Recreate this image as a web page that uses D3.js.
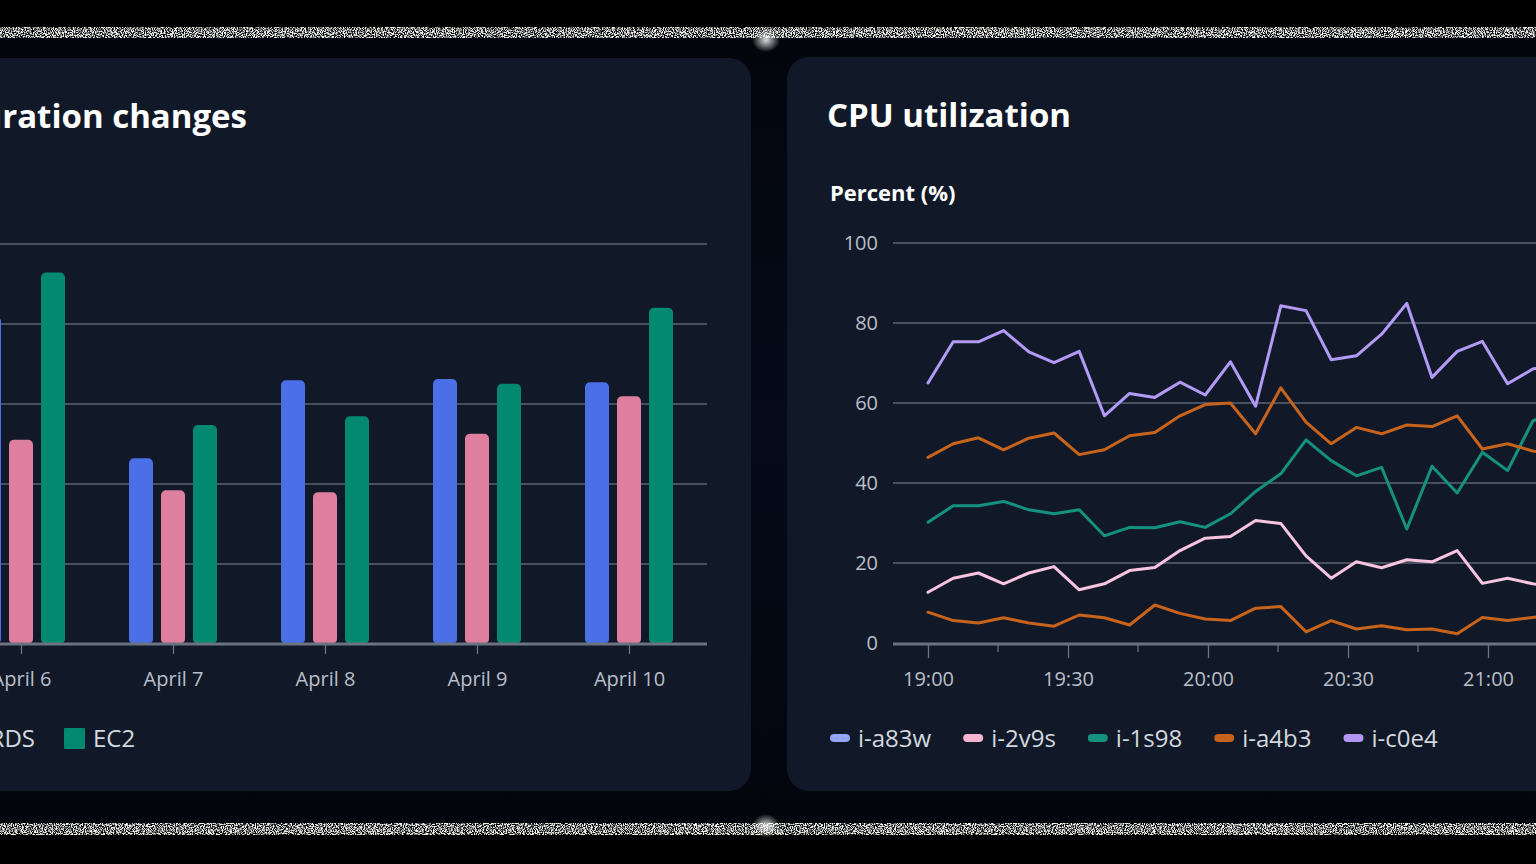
<!DOCTYPE html>
<html lang="en">
<head>
<meta charset="UTF-8">
<title>Configuration changes / CPU utilization</title>
<script src="https://d3js.org/d3.v7.min.js"></script>
<style>
  html, body { margin: 0; padding: 0; background: #000; overflow: hidden; }
  svg { display: block; font-family: 'Open Sans', sans-serif; }
  .grid line { stroke: #5b6372; stroke-width: 1.5; }
  .tick-label { fill: #b9bfc9; font-size: 20px; font-family: 'Open Sans', sans-serif; }
  .legend-label { fill: #d3d8df; font-size: 24px; }
  .title { fill: #fff; font-weight: 700; font-size: 33px; }
</style>
</head>
<body>
<svg id="chart"></svg>
<script>
const width = 1536, height = 864;

// --- bar chart data (Configuration changes)
const days = ['April 6', 'April 7', 'April 8', 'April 9', 'April 10'];
const services = ['Lambda', 'RDS', 'EC2'];
const lambdaValues = [81.7, 46.2, 65.7, 66.0, 65.2];
const rdsValues = [50.8, 38.2, 37.7, 52.3, 61.7];
const ec2Values = [92.6, 54.5, 56.7, 64.8, 83.8];
const barColors = ['#4b6fe6', '#df7fa0', '#02896f'];
const gridValues = [0, 20, 40, 60, 80, 100];

// --- line chart data (CPU utilization)
const sampleTimes = ['19:00:00', '19:05:24', '19:10:48', '19:16:12', '19:21:36', '19:27:00',
  '19:32:24', '19:37:48', '19:43:12', '19:48:36', '19:54:00', '19:59:24', '20:04:48',
  '20:10:12', '20:15:36', '20:21:00', '20:26:24', '20:31:48', '20:37:12', '20:42:36',
  '20:48:00', '20:53:24', '20:58:48', '21:04:12', '21:09:36', '21:15:00'];
const instances = ['i-a83w', 'i-2v9s', 'i-1s98', 'i-a4b3', 'i-c0e4'];
const a83wValues = [7.7, 5.6, 5.0, 6.3, 5.0, 4.2, 7.0, 6.3, 4.5, 9.5, 7.4, 6.0, 5.6,
  8.7, 9.1, 2.8, 5.6, 3.5, 4.3, 3.3, 3.5, 2.3, 6.4, 5.6, 6.4, 7.0];
const v2v9sValues = [12.7, 16.2, 17.5, 14.8, 17.5, 19.1, 13.3, 14.8, 18.1, 18.9, 23.1, 26.2, 26.6,
  30.6, 29.9, 21.8, 16.2, 20.3, 18.8, 20.8, 20.3, 23.1, 14.9, 16.2, 14.8, 14.0];
const s98Values = [30.2, 34.3, 34.3, 35.4, 33.3, 32.3, 33.3, 26.8, 28.9, 28.8, 30.3, 28.9, 32.3,
  37.9, 42.3, 50.8, 45.6, 41.8, 43.9, 28.5, 44.2, 37.5, 47.7, 43.1, 55.5, 58.0];
const a4b3Values = [46.4, 49.8, 51.3, 48.3, 51.2, 52.5, 47.1, 48.3, 51.8, 52.6, 56.8, 59.6, 60.0,
  52.3, 63.8, 55.2, 49.8, 53.9, 52.3, 54.5, 54.1, 56.8, 48.5, 49.8, 48.0, 47.0];
const c0e4Values = [65.0, 75.3, 75.3, 78.1, 72.8, 70.1, 72.9, 56.8, 62.4, 61.4, 65.2, 62.0, 70.3,
  59.2, 84.3, 83.1, 70.8, 71.8, 77.2, 84.9, 66.4, 72.9, 75.4, 64.8, 68.5, 70.0];
const lineColors = ['#c8631c', '#f8c4df', '#14917f', '#c8631c', '#b49af7'];
const legendColors = ['#93a6f6', '#f6b4d0', '#14917f', '#c8621b', '#b296f3'];
const xTickTimes = ['19:00', '19:30', '20:00', '20:30', '21:00', '21:30'];

const svg = d3.select('#chart').attr('width', width).attr('height', height);
const defs = svg.append('defs');

// backdrop
const bg = defs.append('linearGradient').attr('id', 'bg').attr('x1', 0).attr('x2', 0).attr('y1', 0).attr('y2', 1);
bg.append('stop').attr('offset', '0%').attr('stop-color', '#03050c');
bg.append('stop').attr('offset', '50%').attr('stop-color', '#050b1a');
bg.append('stop').attr('offset', '100%').attr('stop-color', '#03050c');
svg.append('rect').attr('width', width).attr('height', height).attr('fill', '#000');
svg.append('rect').attr('x', 0).attr('y', 30).attr('width', width).attr('height', 802).attr('fill', 'url(#bg)');

// sparkle noise band
const sparkle = defs.append('filter').attr('id', 'sparkle').attr('x', 0).attr('y', 0).attr('width', 1).attr('height', 1);
sparkle.append('feTurbulence').attr('type', 'fractalNoise').attr('baseFrequency', 0.9)
  .attr('numOctaves', 2).attr('seed', 4);
sparkle.append('feColorMatrix').attr('type', 'matrix')
  .attr('values', '0 0 0 0 1  0 0 0 0 1  0 0 0 0 0.92  5 0 0 0 -2.0');
const glow = defs.append('radialGradient').attr('id', 'glow');
glow.append('stop').attr('offset', '0%').attr('stop-color', '#fff').attr('stop-opacity', 0.85);
glow.append('stop').attr('offset', '100%').attr('stop-color', '#fff').attr('stop-opacity', 0);

[[27, 11], [823, 12]].forEach(([y, h]) => {
  svg.append('rect').attr('x', 0).attr('y', y).attr('width', width).attr('height', h)
    .attr('fill', '#fff').attr('filter', 'url(#sparkle)').attr('opacity', 0.95);
});
[[766, 40], [766, 826]].forEach(([cx, cy]) => {
  svg.append('ellipse').attr('cx', cx).attr('cy', cy).attr('rx', 14).attr('ry', 12)
    .attr('fill', 'url(#glow)');
});

// cards
svg.append('rect').attr('x', -60).attr('y', 58).attr('width', 811).attr('height', 733)
  .attr('rx', 22).attr('fill', '#111928');
svg.append('rect').attr('x', 787).attr('y', 57).attr('width', 800).attr('height', 734)
  .attr('rx', 22).attr('fill', '#111928');

// ================= Configuration changes (bars)
const left = svg.append('g');
left.append('text').attr('class', 'title').attr('x', 247).attr('y', 128)
  .attr('text-anchor', 'end').text('Configuration changes');

const x0 = d3.scaleBand().domain(days).range([-55, 705]);
const x1 = d3.scaleBand().domain(services).range([-48, 48]).paddingInner(0.25).paddingOuter(0.125);
const yBar = d3.scaleLinear().domain([0, 100]).range([643, 243]);
const barSeries = [lambdaValues, rdsValues, ec2Values];

left.append('g').attr('class', 'grid').selectAll('line')
  .data(gridValues.slice(1)).join('line')
  .attr('x1', -100).attr('x2', 707)
  .attr('y1', d => yBar(d) + 1).attr('y2', d => yBar(d) + 1);

days.forEach((day, i) => {
  const g = left.append('g').attr('transform', `translate(${x0(day) + x0.bandwidth() / 2},0)`);
  services.forEach((s, j) => {
    const v = barSeries[j][i];
    g.append('rect')
      .attr('x', x1(s)).attr('width', x1.bandwidth())
      .attr('y', yBar(v)).attr('height', yBar(0) - yBar(v) + 1)
      .attr('rx', 5).attr('fill', barColors[j]);
  });
});

const barAxis = left.append('g').attr('transform', 'translate(0,643)')
  .call(d3.axisBottom(d3.scalePoint().domain(days).range([x0(days[0]) + 76, x0(days[4]) + 76]))
    .tickSize(11).tickPadding(18));
barAxis.attr('font-family', null).attr('font-size', null);
barAxis.select('.domain').remove();
barAxis.selectAll('.tick line').attr('stroke', '#6b7382').attr('stroke-width', 1.3);
barAxis.selectAll('.tick text').attr('class', 'tick-label').attr('fill', null);
left.append('line').attr('x1', -100).attr('x2', 707).attr('y1', 644).attr('y2', 644)
  .attr('stroke', '#6b7382').attr('stroke-width', 3);

// legend (bars)
const barLegend = left.append('g');
let lx = 0;
const barOffsets = [];
services.forEach((s, j) => {
  barOffsets.push(lx);
  barLegend.append('rect').attr('x', lx).attr('y', 728).attr('width', 21).attr('height', 21)
    .attr('rx', 1).attr('fill', barColors[j]);
  const t = barLegend.append('text').attr('class', 'legend-label')
    .attr('x', lx + 29).attr('y', 747).text(s);
  lx += 29 + t.node().getComputedTextLength() + 29;
});
barLegend.attr('transform', `translate(${64 - barOffsets[2]},0)`);

// ================= CPU utilization (lines)
const right = svg.append('g');
right.append('text').attr('class', 'title').attr('x', 827).attr('y', 127).text('CPU utilization');
right.append('text').attr('x', 830).attr('y', 201).attr('fill', '#fff')
  .attr('font-weight', 700).attr('font-size', 22).text('Percent (%)');

const parseTime = d3.timeParse('%H:%M:%S');
const parseTick = d3.timeParse('%H:%M');
const times = sampleTimes.map(parseTime);
const x = d3.scaleTime().domain([parseTick('19:00'), parseTick('21:00')]).range([928, 1488]);
const y = d3.scaleLinear().domain([0, 100]).range([643, 243]);

right.append('g').attr('class', 'grid').selectAll('line')
  .data(gridValues.slice(1)).join('line')
  .attr('x1', 893).attr('x2', 1600)
  .attr('y1', d => y(d)).attr('y2', d => y(d));

const yAxis = right.append('g').attr('transform', 'translate(893,0)')
  .call(d3.axisLeft(y).tickValues(gridValues).tickSize(0).tickPadding(15));
yAxis.attr('font-family', null).attr('font-size', null);
yAxis.select('.domain').remove();
yAxis.selectAll('.tick text').attr('class', 'tick-label').attr('fill', null);

const xAxis = right.append('g').attr('transform', 'translate(0,643)')
  .call(d3.axisBottom(x).tickValues(xTickTimes.map(parseTick))
    .tickFormat(d3.timeFormat('%H:%M')).tickSize(15).tickPadding(14));
xAxis.attr('font-family', null).attr('font-size', null);
xAxis.select('.domain').remove();
xAxis.selectAll('.tick line').attr('stroke', '#6b7382').attr('stroke-width', 1.3);
xAxis.selectAll('.tick text').attr('class', 'tick-label').attr('fill', null);
const minorTicks = d3.timeMinute.every(15).range(parseTick('19:00'), parseTick('21:45'))
  .filter(d => d.getMinutes() % 30 !== 0);
right.append('g').selectAll('line').data(minorTicks).join('line')
  .attr('x1', d => x(d)).attr('x2', d => x(d)).attr('y1', 643).attr('y2', 652)
  .attr('stroke', '#6b7382').attr('stroke-width', 1.3);
right.append('line').attr('x1', 893).attr('x2', 1600).attr('y1', 644).attr('y2', 644)
  .attr('stroke', '#6b7382').attr('stroke-width', 3);

const lineSeries = [a83wValues, v2v9sValues, s98Values, a4b3Values, c0e4Values];
const line = d3.line().x((d, i) => x(times[i])).y(d => y(d));
right.append('g').selectAll('path').data(lineSeries).join('path')
  .attr('d', line).attr('fill', 'none')
  .attr('stroke', (d, i) => lineColors[i]).attr('stroke-width', 3)
  .attr('stroke-linejoin', 'round').attr('stroke-linecap', 'round');

// legend (lines)
let rx = 830;
instances.forEach((name, i) => {
  right.append('rect').attr('x', rx).attr('y', 734).attr('width', 20).attr('height', 8)
    .attr('rx', 4).attr('fill', legendColors[i]);
  const t = right.append('text').attr('class', 'legend-label')
    .attr('x', rx + 28).attr('y', 747).text(name);
  rx += 28 + t.node().getComputedTextLength() + 32;
});
</script>
</body>
</html>
